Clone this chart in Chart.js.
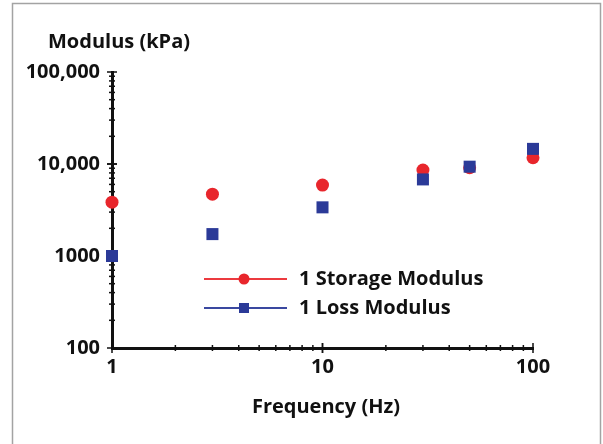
<!DOCTYPE html>
<html>
<head>
<meta charset="utf-8">
<script src="https://cdn.jsdelivr.net/npm/chart.js@4"></script>
<style>
  html, body { margin: 0; padding: 0; background: #fff; }
  #wrap { width: 603px; height: 444px; }
</style>
</head>
<body>
<div id="wrap"><canvas id="chart"></canvas></div>
<script>
// data
const freq = [1, 3, 10, 30, 50, 100];
const storageModulus = [3850, 4700, 5900, 8600, 9100, 11700];
const lossModulus = [1000, 1730, 3380, 6800, 9350, 14600];

const seriesLabels = ['1 Storage Modulus', '1 Loss Modulus'];
const xTickValues = [1, 10, 100];
const xTickLabels = ['1', '10', '100'];
const yTickValues = [100, 1000, 10000, 100000];
const yTickLabels = ['100', '1000', '10,000', '100,000'];

const RED = '#e8262c';
const BLUE = '#2b3a98';
const FONT = '"Open Sans", sans-serif';

Chart.defaults.font.family = FONT;
Chart.defaults.font.size = 20;
Chart.defaults.font.weight = 700;
Chart.defaults.color = '#111';

const toPoints = ys => freq.map((f, i) => ({ x: f, y: ys[i] }));

// axis tick marks (major + minor, crossing the axis line), under the points
const tickMarks = {
    id: 'tickMarks',
    beforeDatasetsDraw(chart) {
        const ctx = chart.ctx;
        const xs = chart.scales.x, ys = chart.scales.y;
        const a = chart.chartArea;
        ctx.save();
        ctx.strokeStyle = '#111';
        ctx.lineWidth = 1.5;
        for (let d = 1; d < 100; d *= 10) {
            for (let m = 1; m <= 10; m++) {
                const px = xs.getPixelForValue(d * m);
                const len = (m === 1 || m === 10) ? 5 : 3;
                ctx.beginPath();
                ctx.moveTo(px, a.bottom - len);
                ctx.lineTo(px, a.bottom + len);
                ctx.stroke();
            }
        }
        for (let d = 100; d < 100000; d *= 10) {
            for (let m = 1; m <= 10; m++) {
                const py = ys.getPixelForValue(d * m);
                const len = (m === 1 || m === 10) ? 5 : 3;
                ctx.beginPath();
                ctx.moveTo(a.left - len, py);
                ctx.lineTo(a.left + len, py);
                ctx.stroke();
            }
        }
        ctx.restore();
    }
};

// frame, axis titles and legend
const decor = {
    id: 'decor',
    beforeDraw(chart) {
        const ctx = chart.ctx;
        ctx.save();
        ctx.strokeStyle = '#a3a3a3';
        ctx.lineWidth = 1.5;
        ctx.strokeRect(12.5, 3.5, 588, 500);
        ctx.restore();
    },
    afterDraw(chart) {
        const ctx = chart.ctx;
        ctx.save();
        ctx.fillStyle = '#111';
        ctx.font = '700 20px ' + FONT;
        ctx.textBaseline = 'middle';
        ctx.textAlign = 'left';
        ctx.fillText('Modulus (kPa)', 48, 42);
        ctx.textAlign = 'center';
        ctx.fillText('Frequency (Hz)', 326, 407);

        // legend
        const colors = ['#ec3a3f', '#3a48a0'];
        const styles = ['circle', 'rect'];
        const rowY = [279, 308];
        chart.data.datasets.forEach((ds, i) => {
            const y = rowY[i];
            ctx.strokeStyle = colors[i];
            ctx.lineWidth = 2;
            ctx.beginPath();
            ctx.moveTo(204, y);
            ctx.lineTo(287, y);
            ctx.stroke();
            ctx.fillStyle = ds.backgroundColor;
            if (styles[i] === 'circle') {
                ctx.beginPath();
                ctx.arc(244, y, 5.5, 0, Math.PI * 2);
                ctx.fill();
            } else {
                ctx.fillRect(239, y - 5, 10, 10);
            }
            ctx.fillStyle = '#111';
            ctx.textAlign = 'left';
            ctx.fillText(seriesLabels[i], 299, y);
        });
        ctx.restore();
    }
};

const tickFont = { family: FONT, size: 20, weight: 700 };

new Chart(document.getElementById('chart'), {
    type: 'scatter',
    data: {
        datasets: [
            {
                label: seriesLabels[0],
                data: toPoints(storageModulus),
                backgroundColor: RED,
                borderColor: RED,
                pointStyle: 'circle',
                pointRadius: 6.5,
                pointHoverRadius: 6.5,
                borderWidth: 0,
                clip: false,
                order: 2
            },
            {
                label: seriesLabels[1],
                data: toPoints(lossModulus),
                backgroundColor: BLUE,
                borderColor: BLUE,
                pointStyle: 'rect',
                pointRadius: 8.5,
                pointHoverRadius: 8.5,
                borderWidth: 0,
                clip: false,
                order: 1
            }
        ]
    },
    options: {
        responsive: true,
        maintainAspectRatio: false,
        animation: false,
        layout: { padding: { left: 12, top: 72, right: 70, bottom: 0 } },
        plugins: {
            legend: { display: false },
            tooltip: { enabled: false },
            title: { display: false }
        },
        scales: {
            x: {
                type: 'logarithmic',
                min: 1,
                max: 100,
                afterFit: s => { s.height = 96; },
                afterBuildTicks: s => { s.ticks = xTickValues.map(v => ({ value: v })); },
                grid: { display: false, drawTicks: false },
                border: { display: true, color: '#111', width: 3 },
                ticks: {
                    padding: 7,
                    maxRotation: 0,
                    autoSkip: false,
                    color: '#111',
                    font: tickFont,
                    callback: v => { const i = xTickValues.indexOf(v); return i >= 0 ? xTickLabels[i] : ''; }
                }
            },
            y: {
                type: 'logarithmic',
                min: 100,
                max: 100000,
                afterFit: s => { s.width = 100; },
                afterBuildTicks: s => { s.ticks = yTickValues.map(v => ({ value: v })); },
                grid: { display: false, drawTicks: false },
                border: { display: true, color: '#111', width: 3 },
                ticks: {
                    padding: 12,
                    autoSkip: false,
                    color: '#111',
                    font: tickFont,
                    callback: v => { const i = yTickValues.indexOf(v); return i >= 0 ? yTickLabels[i] : ''; }
                }
            }
        }
    },
    plugins: [tickMarks, decor]
});
</script>
</body>
</html>
